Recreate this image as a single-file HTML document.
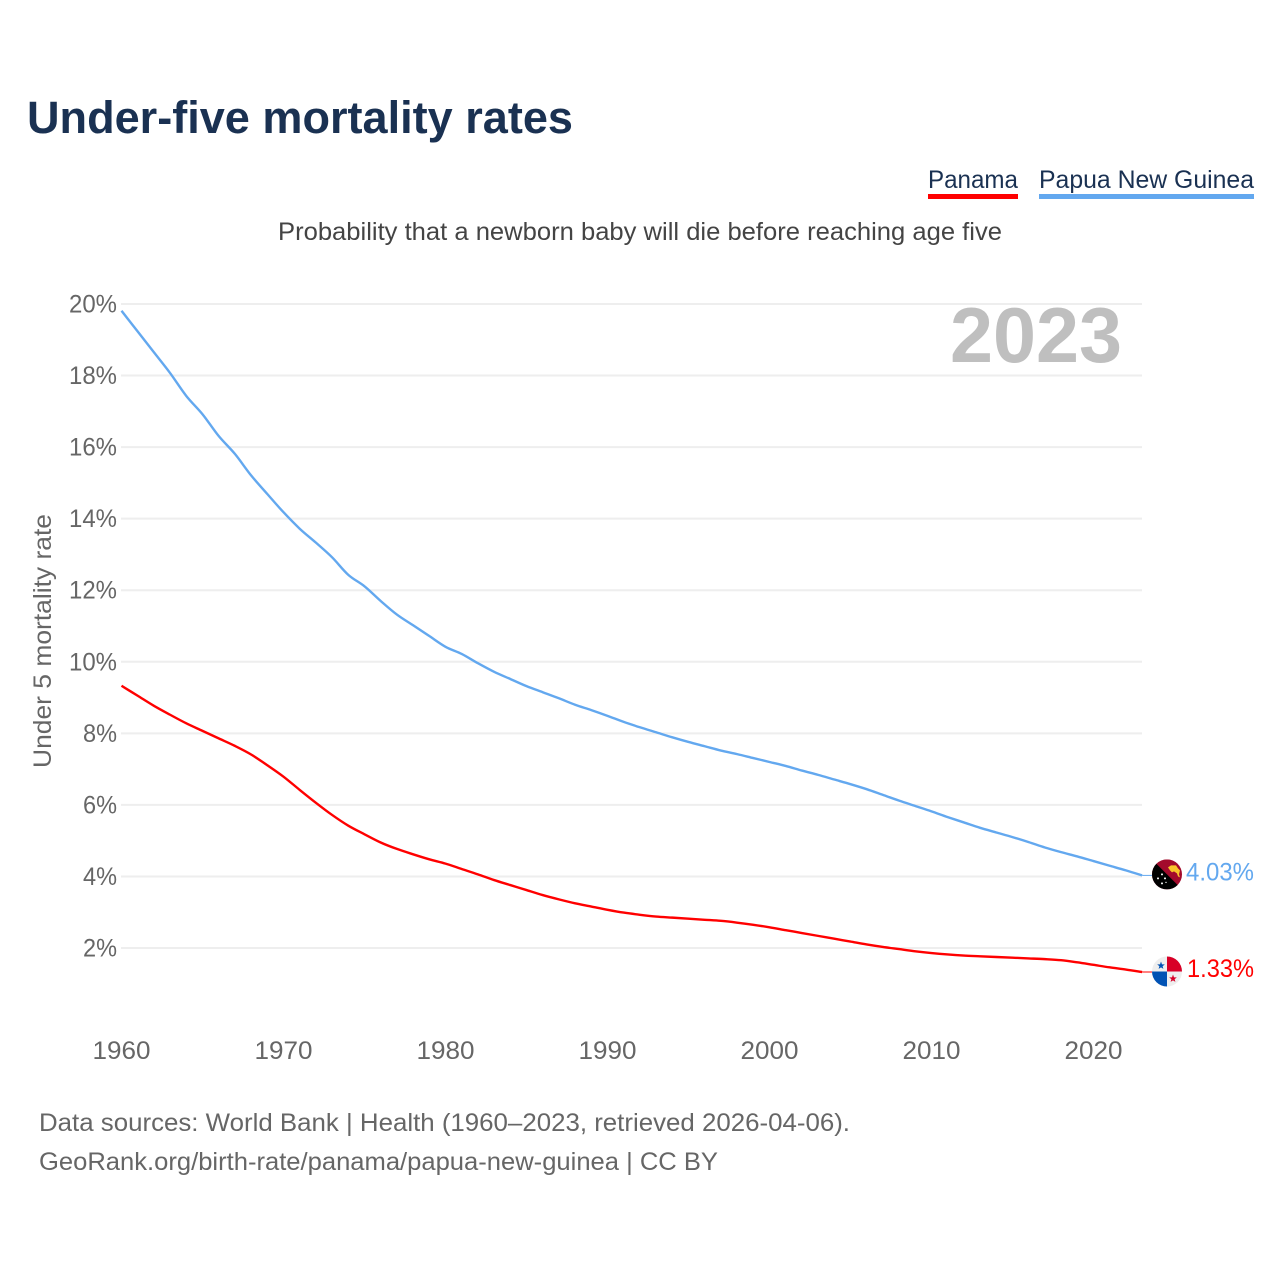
<!DOCTYPE html>
<html lang="en">
<head>
<meta charset="utf-8">
<title>Under-five mortality rates</title>
<style>
html,body{margin:0;padding:0;background:#fff;width:1280px;height:1280px;overflow:hidden}
svg{display:block}
text{font-family:"Liberation Sans",sans-serif}
</style>
</head>
<body>
<svg id="chart" xmlns="http://www.w3.org/2000/svg" width="1280" height="1280" viewBox="0 0 1280 1280">
  <defs>
    <clipPath id="flag-clip"><circle cx="0" cy="0" r="15"></circle></clipPath>
  </defs>
  <rect width="1280" height="1280" fill="#fff"></rect>
  <text x="27" y="133" font-size="45" font-weight="700" fill="#1a3152" textLength="546" lengthAdjust="spacingAndGlyphs">Under-five mortality rates</text>

  <g>
    <text x="928" y="188" font-size="25" fill="#1a3152" textLength="90" lengthAdjust="spacingAndGlyphs">Panama</text>
    <rect x="928" y="194" width="90" height="5" fill="#ff0000"></rect>
  </g>
  <g>
    <text x="1039" y="188" font-size="25" fill="#1a3152" textLength="215" lengthAdjust="spacingAndGlyphs">Papua New Guinea</text>
    <rect x="1039" y="194" width="215" height="5" fill="#63a8ef"></rect>
  </g>

  <text x="278" y="240" font-size="25" fill="#444" textLength="724" lengthAdjust="spacingAndGlyphs">Probability that a newborn baby will die before reaching age five</text>

  <g id="grid"></g>
  <g id="y-axis"></g>
  <g id="x-axis"></g>

  <text x="1122" y="362" font-size="78" font-weight="700" fill="#bfbfbf" text-anchor="end" textLength="172" lengthAdjust="spacingAndGlyphs">2023</text>

  <text transform="translate(51,768) rotate(-90)" font-size="25" fill="#666" textLength="254" lengthAdjust="spacingAndGlyphs">Under 5 mortality rate</text>

  <g id="series"></g>

  <g id="flag-png">
    <g clip-path="url(#flag-clip)">
      <rect x="-15" y="-15" width="30" height="30" fill="#a30b2c"></rect>
      <polygon points="-15,-15 15,15 -15,15" fill="#000"></polygon>
      <polygon points="1,-7 4,-9 9,-9 11,-6 13,-4 12,0 13,3 11,2 10,-1 7,-3 5,-2 3,-4" fill="#f9c52a"></polygon>
      <circle cx="-5" cy="0" r="1" fill="#fff"></circle>
      <circle cx="-9" cy="4" r="1" fill="#fff"></circle>
      <circle cx="-2" cy="4" r="1" fill="#fff"></circle>
      <circle cx="-5" cy="9" r="1" fill="#fff"></circle>
      <circle cx="-1" cy="8" r="0.7" fill="#fff"></circle>
    </g>
  </g>
  <g id="flag-pan">
    <g clip-path="url(#flag-clip)">
      <rect x="-15" y="-15" width="30" height="30" fill="#eeeeee"></rect>
      <rect x="0" y="-15" width="15" height="15" fill="#d80027"></rect>
      <rect x="-15" y="0" width="15" height="15" fill="#0052b4"></rect>
      <polygon points="-6,-10 -5,-7.2 -2.2,-7.1 -4.4,-5.3 -3.6,-2.6 -6,-4.2 -8.4,-2.6 -7.6,-5.3 -9.8,-7.1 -7,-7.2" fill="#0052b4"></polygon>
      <polygon points="6,3 7,5.8 9.8,5.9 7.6,7.7 8.4,10.4 6,8.8 3.6,10.4 4.4,7.7 2.2,5.9 5,5.8" fill="#d80027"></polygon>
    </g>
  </g>
  <g id="end-labels"></g>

  <text x="39" y="1131" font-size="25" fill="#666" textLength="811" lengthAdjust="spacingAndGlyphs">Data sources: World Bank | Health (1960–2023, retrieved 2026-04-06).</text>
  <text x="39" y="1170" font-size="25" fill="#666" textLength="679" lengthAdjust="spacingAndGlyphs">GeoRank.org/birth-rate/panama/papua-new-guinea | CC BY</text>
</svg>
<script>
var startYear = 1960;
var xTickYears = [1960, 1970, 1980, 1990, 2000, 2010, 2020];
var yTickValues = [2, 4, 6, 8, 10, 12, 14, 16, 18, 20];
var panamaValues = [
  9.33, 9.05, 8.77, 8.52, 8.28, 8.07, 7.86, 7.65, 7.41, 7.11,
  6.79, 6.42, 6.06, 5.72, 5.42, 5.18, 4.95, 4.77, 4.62, 4.48,
  4.36, 4.21, 4.06, 3.90, 3.76, 3.62, 3.48, 3.36, 3.25, 3.16,
  3.07, 2.99, 2.93, 2.88, 2.85, 2.82, 2.79, 2.76, 2.71, 2.65,
  2.58, 2.50, 2.42, 2.34, 2.26, 2.18, 2.10, 2.03, 1.97, 1.91,
  1.86, 1.82, 1.79, 1.77, 1.75, 1.73, 1.71, 1.69, 1.66, 1.60,
  1.53, 1.46, 1.40, 1.33
];
var pngValues = [
  19.81, 19.23, 18.65, 18.07, 17.43, 16.92, 16.31, 15.81, 15.21, 14.69,
  14.18, 13.72, 13.33, 12.92, 12.43, 12.11, 11.70, 11.32, 11.02, 10.72,
  10.42, 10.22, 9.96, 9.72, 9.52, 9.32, 9.15, 8.98, 8.80, 8.65,
  8.49, 8.32, 8.17, 8.03, 7.89, 7.76, 7.64, 7.52, 7.42, 7.31,
  7.20, 7.09, 6.96, 6.84, 6.71, 6.58, 6.44, 6.28, 6.12, 5.97,
  5.82, 5.66, 5.51, 5.36, 5.23, 5.10, 4.96, 4.81, 4.68, 4.56,
  4.43, 4.30, 4.17, 4.03
];

var NS = 'http://www.w3.org/2000/svg';
function xScale(year) { return 121.5 + (year - 1960) * 16.2; }
function yScale(value) { return 304 + (20 - value) * 35.78; }
function make(tag, parentId) {
  var el = document.createElementNS(NS, tag);
  document.getElementById(parentId).appendChild(el);
  return el;
}

yTickValues.forEach(function (v) {
  var line = make('line', 'grid');
  
  
  line.setAttribute('x1', 121);
  line.setAttribute('x2', 1142);
  line.setAttribute('y1', yScale(v));
  line.setAttribute('y2', yScale(v));
  line.setAttribute('stroke', '#eeeeee');
  line.setAttribute('stroke-width', 2);

  var label = make('text', 'y-axis');
  
  
  var str = v + '%';
  label.textContent = str;
  label.setAttribute('x', 117);
  label.setAttribute('y', yScale(v) + 8.5);
  label.setAttribute('text-anchor', 'end');
  label.setAttribute('font-size', 25);
  label.setAttribute('fill', '#666');
  label.setAttribute('textLength', str.length === 3 ? 48 : 34);
  label.setAttribute('lengthAdjust', 'spacingAndGlyphs');
});

xTickYears.forEach(function (yr) {
  var label = make('text', 'x-axis');
  
  
  label.textContent = String(yr);
  label.setAttribute('x', xScale(yr));
  label.setAttribute('y', 1059);
  label.setAttribute('text-anchor', 'middle');
  label.setAttribute('font-size', 25);
  label.setAttribute('fill', '#666');
  label.setAttribute('textLength', 58);
  label.setAttribute('lengthAdjust', 'spacingAndGlyphs');
});

function pathOf(values) {
  var pts = values.map(function (v, i) {
    return [xScale(startYear + i), yScale(v)];
  });
  var d = 'M' + pts[0][0].toFixed(2) + ',' + pts[0][1].toFixed(2);
  for (var i = 0; i < pts.length - 1; i++) {
    var p0 = pts[Math.max(i - 1, 0)];
    var p1 = pts[i];
    var p2 = pts[i + 1];
    var p3 = pts[Math.min(i + 2, pts.length - 1)];
    d += ' C' + (p1[0] + (p2[0] - p0[0]) / 6).toFixed(2) + ',' + (p1[1] + (p2[1] - p0[1]) / 6).toFixed(2) +
         ' ' + (p2[0] - (p3[0] - p1[0]) / 6).toFixed(2) + ',' + (p2[1] - (p3[1] - p1[1]) / 6).toFixed(2) +
         ' ' + p2[0].toFixed(2) + ',' + p2[1].toFixed(2);
  }
  return d;
}

var pngLine = make('path', 'series');


pngLine.setAttribute('d', pathOf(pngValues));
pngLine.setAttribute('fill', 'none');
pngLine.setAttribute('stroke', '#63a8ef');
pngLine.setAttribute('stroke-width', 2.4);

var panLine = make('path', 'series');


panLine.setAttribute('d', pathOf(panamaValues));
panLine.setAttribute('fill', 'none');
panLine.setAttribute('stroke', '#ff0000');
panLine.setAttribute('stroke-width', 2.4);

var lastYear = startYear + panamaValues.length - 1;
var lastPng = pngValues[pngValues.length - 1];
var lastPan = panamaValues[panamaValues.length - 1];

var pngLead = make('line', 'series');


pngLead.setAttribute('x1', xScale(lastYear));
pngLead.setAttribute('x2', 1152);
pngLead.setAttribute('y1', yScale(lastPng));
pngLead.setAttribute('y2', yScale(lastPng));
pngLead.setAttribute('stroke', '#63a8ef');
pngLead.setAttribute('stroke-width', 1);

var panLead = make('line', 'series');


panLead.setAttribute('x1', xScale(lastYear));
panLead.setAttribute('x2', 1152);
panLead.setAttribute('y1', yScale(lastPan));
panLead.setAttribute('y2', yScale(lastPan));
panLead.setAttribute('stroke', '#ff0000');
panLead.setAttribute('stroke-width', 1);

document.getElementById('flag-png').setAttribute('transform', 'translate(1167,' + (yScale(lastPng) - 1) + ')');
document.getElementById('flag-pan').setAttribute('transform', 'translate(1167,' + (yScale(lastPan) - 0.5) + ')');

var pngLabel = make('text', 'end-labels');


pngLabel.textContent = lastPng.toFixed(2) + '%';
pngLabel.setAttribute('x', 1186);
pngLabel.setAttribute('y', yScale(lastPng) + 5);
pngLabel.setAttribute('font-size', 25);
pngLabel.setAttribute('fill', '#63a8ef');
pngLabel.setAttribute('textLength', 68);
pngLabel.setAttribute('lengthAdjust', 'spacingAndGlyphs');

var panLabel = make('text', 'end-labels');


panLabel.textContent = lastPan.toFixed(2) + '%';
panLabel.setAttribute('x', 1187);
panLabel.setAttribute('y', yScale(lastPan) + 5);
panLabel.setAttribute('font-size', 25);
panLabel.setAttribute('fill', '#ff0000');
panLabel.setAttribute('textLength', 67);
panLabel.setAttribute('lengthAdjust', 'spacingAndGlyphs');
</script>
</body>
</html>
